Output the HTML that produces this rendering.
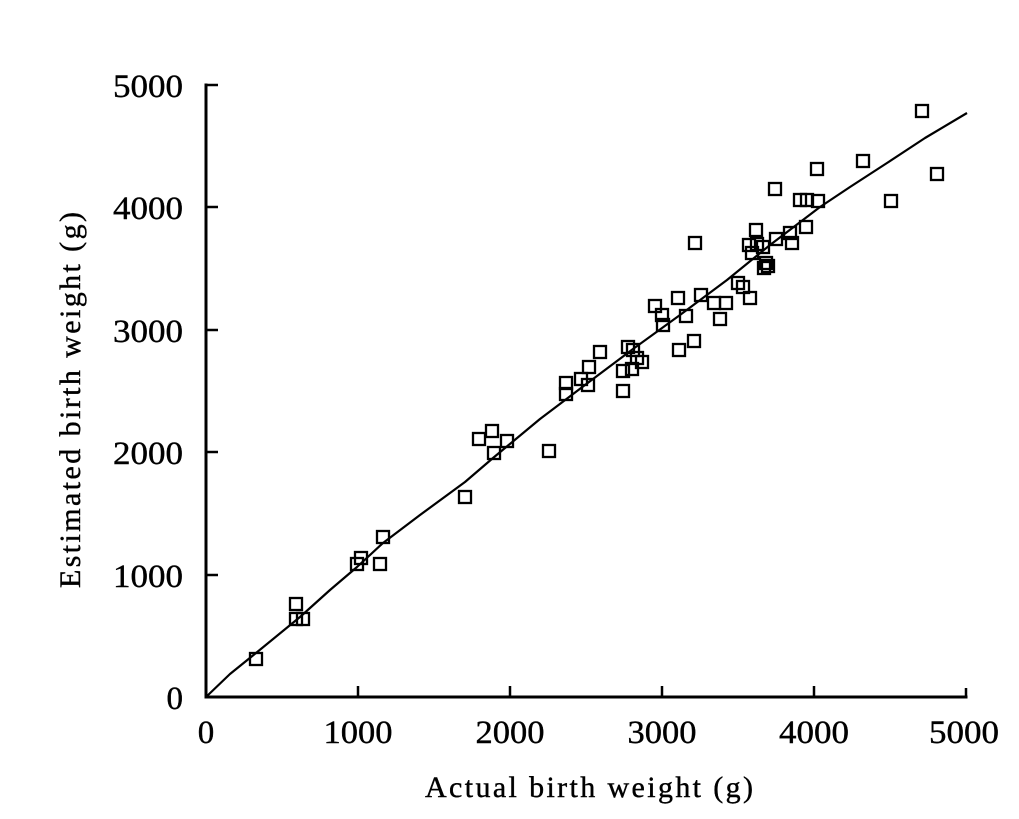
<!DOCTYPE html>
<html>
<head>
<meta charset="utf-8">
<style>
html,body{margin:0;padding:0;background:#fff;}
svg{display:block;}
text{font-family:"Liberation Serif",serif;fill:#000;}
</style>
</head>
<body>
<svg width="1019" height="819" viewBox="0 0 1019 819" xmlns="http://www.w3.org/2000/svg">
<rect width="1019" height="819" fill="#fff"/>
<g stroke="#000" stroke-width="3" fill="none" stroke-linecap="square">
<line x1="206" y1="85" x2="206" y2="697"/>
<line x1="206" y1="697" x2="966" y2="697"/>
</g>
<g stroke="#000" stroke-width="2.5">
<line x1="206" y1="85" x2="218" y2="85"/>
<line x1="206" y1="207" x2="218" y2="207"/>
<line x1="206" y1="330" x2="218" y2="330"/>
<line x1="206" y1="452" x2="218" y2="452"/>
<line x1="206" y1="575" x2="218" y2="575"/>
<line x1="358" y1="697" x2="358" y2="686"/>
<line x1="510" y1="697" x2="510" y2="686"/>
<line x1="662" y1="697" x2="662" y2="686"/>
<line x1="814" y1="697" x2="814" y2="686"/>
<line x1="966" y1="697" x2="966" y2="688"/>
</g>
<g font-size="33" text-anchor="end" stroke="#000" stroke-width="0.4">
<text x="183" y="97" textLength="70" lengthAdjust="spacingAndGlyphs">5000</text>
<text x="183" y="219" textLength="70" lengthAdjust="spacingAndGlyphs">4000</text>
<text x="183" y="342" textLength="70" lengthAdjust="spacingAndGlyphs">3000</text>
<text x="183" y="464" textLength="70" lengthAdjust="spacingAndGlyphs">2000</text>
<text x="183" y="587" textLength="70" lengthAdjust="spacingAndGlyphs">1000</text>
<text x="183" y="709">0</text>
</g>
<g font-size="33" text-anchor="middle" stroke="#000" stroke-width="0.4">
<text x="206" y="743">0</text>
<text x="358" y="743" textLength="69" lengthAdjust="spacingAndGlyphs">1000</text>
<text x="510" y="743" textLength="69" lengthAdjust="spacingAndGlyphs">2000</text>
<text x="662" y="743" textLength="69" lengthAdjust="spacingAndGlyphs">3000</text>
<text x="814" y="743" textLength="70" lengthAdjust="spacingAndGlyphs">4000</text>
<text x="964" y="743" textLength="70" lengthAdjust="spacingAndGlyphs">5000</text>
</g>
<text x="425" y="797" font-size="30" stroke="#000" stroke-width="0.4" textLength="328" lengthAdjust="spacing">Actual birth weight (g)</text>
<text transform="translate(80,588) rotate(-90)" x="0" y="0" font-size="30" stroke="#000" stroke-width="0.4" textLength="376" lengthAdjust="spacing">Estimated birth weight (g)</text>
<polyline fill="none" stroke="#000" stroke-width="2.2" stroke-linejoin="round" points="206,697 230,674 256,653 300,617 330,590 357,567 383,543 420,515 465,482 493,458 540,419 585,385 633,349 680,315 727,280 770,245 820,207 850,187 887,163 925,138 967,113"/>
<g fill="none" stroke="#000" stroke-width="2.3">
<rect x="250" y="653" width="12" height="12"/>
<rect x="290" y="598" width="12" height="12"/>
<rect x="290" y="613" width="12" height="12"/>
<rect x="297" y="613" width="12" height="12"/>
<rect x="351" y="558" width="12" height="12"/>
<rect x="355" y="552" width="12" height="12"/>
<rect x="374" y="558" width="12" height="12"/>
<rect x="377" y="531" width="12" height="12"/>
<rect x="459" y="491" width="12" height="12"/>
<rect x="473" y="433" width="12" height="12"/>
<rect x="486" y="425" width="12" height="12"/>
<rect x="501" y="435" width="12" height="12"/>
<rect x="488" y="447" width="12" height="12"/>
<rect x="543" y="445" width="12" height="12"/>
<rect x="560" y="377" width="12" height="12"/>
<rect x="560" y="388" width="12" height="12"/>
<rect x="575" y="373" width="12" height="12"/>
<rect x="582" y="379" width="12" height="12"/>
<rect x="583" y="361" width="12" height="12"/>
<rect x="594" y="346" width="12" height="12"/>
<rect x="617" y="385" width="12" height="12"/>
<rect x="617" y="365" width="12" height="12"/>
<rect x="622" y="341" width="12" height="12"/>
<rect x="627" y="344" width="12" height="12"/>
<rect x="626" y="363" width="12" height="12"/>
<rect x="631" y="352" width="12" height="12"/>
<rect x="636" y="356" width="12" height="12"/>
<rect x="649" y="300" width="12" height="12"/>
<rect x="656" y="309" width="12" height="12"/>
<rect x="657" y="319" width="12" height="12"/>
<rect x="673" y="344" width="12" height="12"/>
<rect x="688" y="335" width="12" height="12"/>
<rect x="672" y="292" width="12" height="12"/>
<rect x="680" y="310" width="12" height="12"/>
<rect x="695" y="289" width="12" height="12"/>
<rect x="708" y="297" width="12" height="12"/>
<rect x="720" y="297" width="12" height="12"/>
<rect x="714" y="313" width="12" height="12"/>
<rect x="689" y="237" width="12" height="12"/>
<rect x="732" y="277" width="12" height="12"/>
<rect x="737" y="281" width="12" height="12"/>
<rect x="744" y="292" width="12" height="12"/>
<rect x="750" y="224" width="12" height="12"/>
<rect x="743" y="239" width="12" height="12"/>
<rect x="751" y="238" width="12" height="12"/>
<rect x="746" y="247" width="12" height="12"/>
<rect x="757" y="241" width="12" height="12"/>
<rect x="760" y="257" width="12" height="12"/>
<rect x="758" y="262" width="12" height="12"/>
<rect x="762" y="260" width="12" height="12"/>
<rect x="770" y="233" width="12" height="12"/>
<rect x="784" y="227" width="12" height="12"/>
<rect x="786" y="237" width="12" height="12"/>
<rect x="800" y="221" width="12" height="12"/>
<rect x="769" y="183" width="12" height="12"/>
<rect x="794" y="194" width="12" height="12"/>
<rect x="801" y="194" width="12" height="12"/>
<rect x="812" y="195" width="12" height="12"/>
<rect x="811" y="163" width="12" height="12"/>
<rect x="857" y="155" width="12" height="12"/>
<rect x="885" y="195" width="12" height="12"/>
<rect x="916" y="105" width="12" height="12"/>
<rect x="931" y="168" width="12" height="12"/>
</g>
</svg>
</body>
</html>
